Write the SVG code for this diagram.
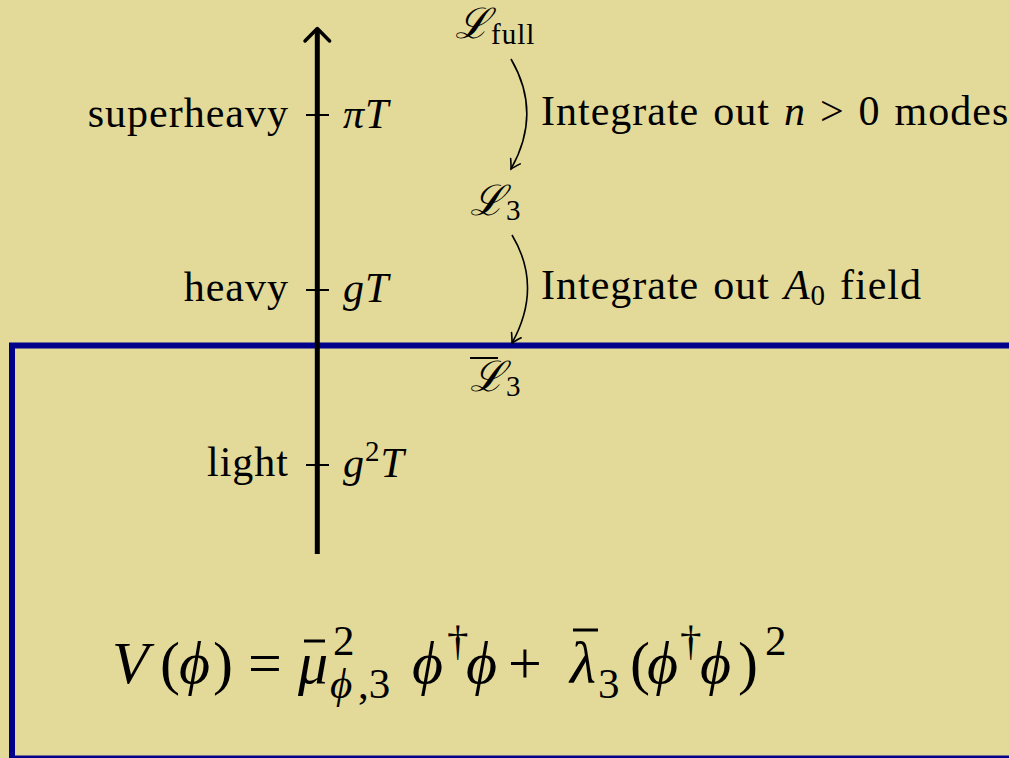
<svg xmlns="http://www.w3.org/2000/svg" width="1009" height="758" viewBox="0 0 1009 758">
<style>
.t{font-family:"Liberation Serif","DejaVu Serif",serif;font-size:42px;fill:#000;letter-spacing:1px;word-spacing:2.5px}
.i{font-style:italic}
.sub{font-size:29px}
.eq{font-family:"Liberation Serif","DejaVu Serif",serif;font-size:60px;fill:#000}
.esub{font-size:43px}
.tick{stroke:#000;stroke-width:2}
.flow{fill:none;stroke:#000;stroke-width:1.6}
</style>
<defs>
<marker id="ah" markerWidth="14" markerHeight="14" refX="0" refY="0" viewBox="-10 -7 12 14" orient="auto" markerUnits="userSpaceOnUse">
<path d="M-9,-5.5 Q-3,-1.5 0,0 Q-3,1.5 -9,5.5" fill="none" stroke="#000" stroke-width="1.6" stroke-linecap="round"/>
</marker>
</defs>
<rect width="1009" height="758" fill="#E3D998"/>
<g id="region3d">
<rect x="12" y="345.5" width="1010" height="413" fill="none" stroke="#00008B" stroke-width="6"/>
</g>
<g id="axis">
<line x1="317.3" y1="554" x2="317.3" y2="30" stroke="#000" stroke-width="5"/>
<path d="M305,41 L317.3,28.5 L329.6,41" fill="none" stroke="#000" stroke-width="3.5" stroke-linecap="round" stroke-linejoin="round"/>
</g>
<g id="superheavy">
<line class="tick" x1="306" y1="115" x2="329" y2="115"/>
<text class="t" x="289" y="127" text-anchor="end">superheavy</text>
<text class="t i" x="343" y="128">πT</text>
</g>
<g id="heavy">
<line class="tick" x1="306" y1="290" x2="329" y2="290"/>
<text class="t" x="289" y="301" text-anchor="end">heavy</text>
<text class="t i" x="343" y="302">gT</text>
</g>
<g id="light">
<line class="tick" x1="306" y1="465" x2="329" y2="465"/>
<text class="t" x="289" y="476" text-anchor="end">light</text>
<text class="t" x="343" y="477"><tspan class="i">g</tspan><tspan class="sub" dy="-16">2</tspan><tspan class="i" dy="16">T</tspan></text>
</g>
<g id="Lfull">
<text class="t" x="455" y="38"><tspan class="i">ℒ</tspan><tspan class="sub" dy="6">full</tspan></text>
</g>
<g id="L3">
<text class="t" x="470" y="215"><tspan class="i">ℒ</tspan><tspan class="sub" dy="5">3</tspan></text>
</g>
<g id="L3bar">
<line x1="470" y1="358" x2="498" y2="358" stroke="#000" stroke-width="2"/>
<text class="t" x="470" y="391"><tspan class="i">ℒ</tspan><tspan class="sub" dy="5">3</tspan></text>
</g>
<g id="connectors">
<path class="flow" d="M511,59 C532,95 532,132 511,169" marker-end="url(#ah)"/>
<path class="flow" d="M512,235 C533,270 533,305 512,343" marker-end="url(#ah)"/>
</g>
<g id="label1">
<text class="t" x="541" y="125">Integrate out <tspan class="i">n</tspan> &gt; 0 modes</text>
</g>
<g id="label2">
<text class="t" x="541" y="299">Integrate out <tspan class="i">A</tspan><tspan class="sub" dy="6">0</tspan><tspan dy="-6"> field</tspan></text>
</g>
<g id="potential">
<text class="eq" y="683"><tspan class="i" x="112">V</tspan><tspan x="160">(</tspan><tspan class="i" x="179">ϕ</tspan><tspan x="213">)</tspan><tspan x="248">=</tspan><tspan class="i" x="298">μ</tspan><tspan class="i" x="412">ϕ</tspan><tspan class="i" x="466">ϕ</tspan><tspan x="508">+</tspan><tspan class="i" x="570">λ</tspan><tspan x="630">(</tspan><tspan class="i" x="647">ϕ</tspan><tspan class="i" x="700">ϕ</tspan><tspan x="738">)</tspan></text>
<text class="eq esub" y="655"><tspan x="333">2</tspan><tspan x="447">†</tspan><tspan x="680">†</tspan><tspan x="765">2</tspan></text>
<text class="eq esub" y="698"><tspan class="i" x="330">ϕ</tspan><tspan x="358">,3</tspan><tspan x="598">3</tspan></text>
<line x1="304" y1="641" x2="325" y2="641" stroke="#000" stroke-width="3"/>
<line x1="573" y1="630" x2="598" y2="630" stroke="#000" stroke-width="3"/>
</g>
</svg>
